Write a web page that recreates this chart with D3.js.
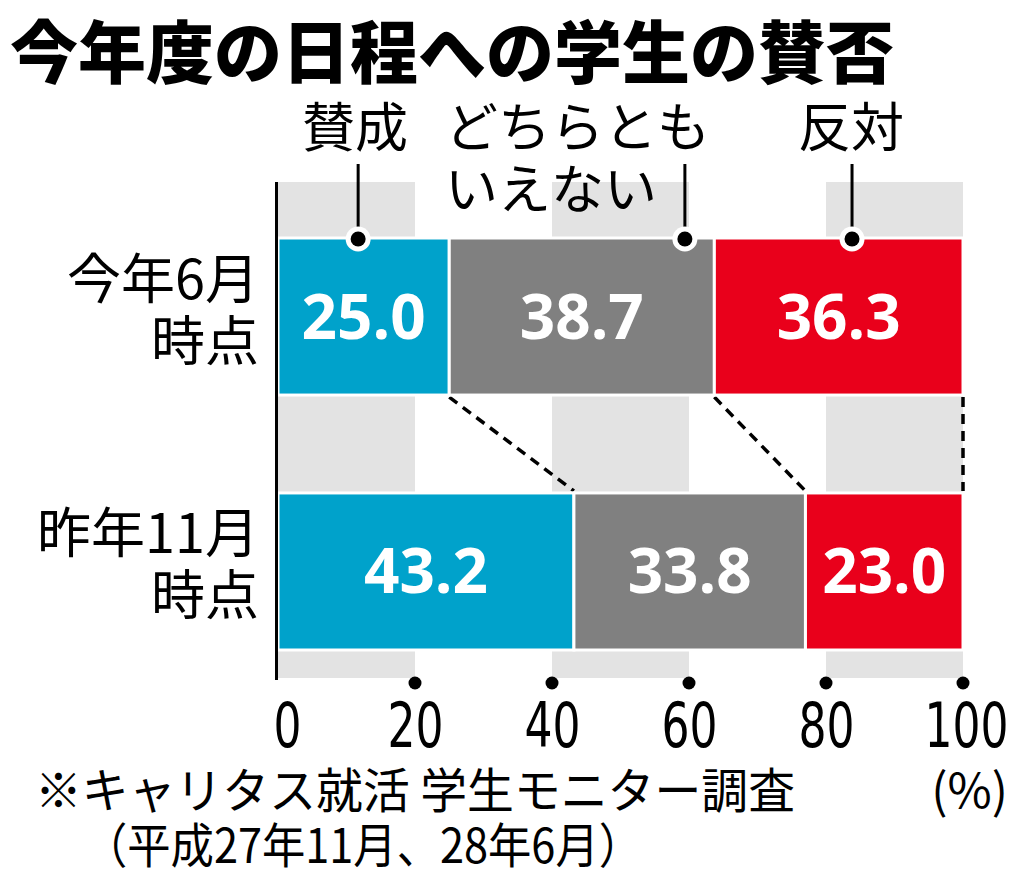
<!DOCTYPE html>
<html>
<head>
<meta charset="utf-8">
<script src="https://cdn.jsdelivr.net/npm/d3@7"></script>
<style>
  body { margin: 0; background: #fff; }
  svg { display: block; }
  .jp { font-family: "Noto Sans CJK JP", sans-serif; }
</style>
</head>
<body>
<div class="chart"></div>
<script>
// === Data ===
const periods = ["今年6月時点", "昨年11月時点"];
const periodLines = [["今年6月", "時点"], ["昨年11月", "時点"]];
const answers = ["賛成", "どちらとも いえない", "反対"];
const answerLines = [["賛成"], ["どちらとも", "いえない"], ["反対"]];
const juneValues = [25.0, 38.7, 36.3];
const novValues = [43.2, 33.8, 23.0];
const xTicks = [0, 20, 40, 60, 80, 100];
const colors = ["#00a2cb", "#808080", "#e9001b"];

const width = 1024, height = 875;

const svg = d3.select(".chart").append("svg")
    .attr("width", width)
    .attr("height", height);

// === Scales ===
const x = d3.scaleLinear().domain([0, 100]).range([278, 963]);
const y = d3.scaleBand().domain(periods).range([238, 650]).paddingInner(0.384);

const plotTop = 182, plotBottom = 678;

// stacked rows
const rows = [juneValues, novValues].map((vals, i) => {
    let acc = 0;
    return vals.map((v, j) => {
        const seg = {period: periods[i], answer: answers[j], value: v, x0: acc, x1: acc + v, idx: j};
        acc += v;
        return seg;
    });
});

// === Background columns ===
svg.append("g").selectAll("rect")
    .data(d3.range(0, 100, 40))
    .join("rect")
    .attr("x", d => x(d))
    .attr("y", plotTop)
    .attr("width", d => x(d + 20) - x(d))
    .attr("height", plotBottom - plotTop)
    .attr("fill", "#e3e3e3");

// === Dashed connectors between rows ===
const b0 = y(periods[0]) + y.bandwidth(), b1 = y(periods[1]);
svg.append("g").selectAll("line")
    .data([0, 1, 2])
    .join("line")
    .attr("x1", i => x(rows[0][i].x1))
    .attr("x2", i => x(rows[1][i].x1))
    .attr("y1", b0 + 2)
    .attr("y2", b1 - 2)
    .attr("stroke", "#000")
    .attr("stroke-width", 3.5)
    .attr("stroke-dasharray", "10 7");

// === Bars ===
const barG = svg.append("g");
rows.forEach(row => {
    barG.selectAll(null)
        .data(row)
        .join("rect")
        .attr("x", d => x(d.x0))
        .attr("y", d => y(d.period))
        .attr("width", d => x(d.x1) - x(d.x0))
        .attr("height", y.bandwidth())
        .attr("fill", d => colors[d.idx])
        .attr("stroke", "#fff")
        .attr("stroke-width", 3);

    barG.selectAll(null)
        .data(row)
        .join("text")
        .attr("x", d => x((d.x0 + d.x1) / 2))
        .attr("y", d => y(d.period) + y.bandwidth() / 2 + 22)
        .attr("text-anchor", "middle")
        .attr("fill", "#fff")
        .attr("font-family", "'Open Sans', 'Noto Sans', sans-serif")
        .attr("font-weight", 700)
        .attr("font-size", 62)
        .text(d => d3.format(".1f")(d.value));
});

// === Axis line ===
svg.append("line")
    .attr("x1", x(0) - 1.5).attr("x2", x(0) - 1.5)
    .attr("y1", plotTop).attr("y2", plotBottom + 2)
    .attr("stroke", "#000")
    .attr("stroke-width", 3);

// tick dots
svg.append("g").selectAll("circle")
    .data(xTicks.slice(1))
    .join("circle")
    .attr("cx", d => x(d))
    .attr("cy", 683)
    .attr("r", 6.5)
    .attr("fill", "#000");

// tick labels
const xAxis = d3.axisBottom(x).tickValues(xTicks).tickSize(0).tickPadding(0);
const axisG = svg.append("g")
    .attr("transform", "translate(0, 703)")
    .call(xAxis);
axisG.select(".domain").remove();
axisG.selectAll("text")
    .attr("y", 0)
    .attr("dy", 44)
    .attr("dx", d => d === 0 ? 9 : (d === 100 ? 3 : 0))
    .attr("fill", "#000")
    .attr("font-family", "'Liberation Sans Narrow', 'DejaVu Sans Condensed', 'DejaVu Sans', sans-serif")
    .attr("font-size", 62)
    .attr("textLength", d => String(d).length * 28)
    .attr("lengthAdjust", "spacingAndGlyphs");

// === Period labels ===
periodLines.forEach((lines, i) => {
    const cy = y(periods[i]) + y.bandwidth() / 2;
    svg.append("text")
        .attr("class", "jp")
        .attr("text-anchor", "end")
        .attr("font-size", 54)
        .attr("fill", "#000")
        .selectAll("tspan")
        .data(lines)
        .join("tspan")
        .attr("x", 259)
        .attr("y", (d, k) => cy - 18 + k * 62)
        .text(d => d);
});

// === Legend labels with leaders ===
const legendAnchor = [11.7, 59.4, 83.8];
const legendText = [
    {x: 355, anchor: "middle"},
    {x: 445, anchor: "start"},
    {x: 851, anchor: "middle"}
];
const barTop = y(periods[0]);
answerLines.forEach((lines, i) => {
    svg.append("text")
        .attr("class", "jp")
        .attr("text-anchor", legendText[i].anchor)
        .attr("font-size", 53)
        .attr("fill", "#000")
        .selectAll("tspan")
        .data(lines)
        .join("tspan")
        .attr("x", legendText[i].x)
        .attr("y", (d, k) => 147 + k * 62)
        .text(d => d);

    const cx = x(legendAnchor[i]);
    svg.append("line")
        .attr("x1", cx).attr("x2", cx)
        .attr("y1", 164).attr("y2", barTop)
        .attr("stroke", "#000")
        .attr("stroke-width", 3);
    svg.append("circle")
        .attr("cx", cx).attr("cy", barTop + 1)
        .attr("r", 12.5)
        .attr("fill", "#fff");
    svg.append("circle")
        .attr("cx", cx).attr("cy", barTop + 1)
        .attr("r", 7.5)
        .attr("fill", "#000");
});

// === Title ===
svg.append("text")
    .attr("class", "jp")
    .attr("x", 10)
    .attr("y", 78)
    .attr("font-size", 68)
    .attr("font-weight", 900)
    .attr("fill", "#000")
    .text("今年度の日程への学生の賛否");

// === Notes ===
svg.append("text")
    .attr("class", "jp")
    .attr("x", 35).attr("y", 808)
    .attr("font-size", 48)
    .attr("textLength", 760)
    .attr("lengthAdjust", "spacingAndGlyphs")
    .text("※キャリタス就活 学生モニター調査");

svg.append("text")
    .attr("class", "jp")
    .attr("x", 84).attr("y", 863)
    .attr("font-size", 48)
    .attr("textLength", 558)
    .attr("lengthAdjust", "spacingAndGlyphs")
    .text("（平成27年11月、28年6月）");

svg.append("text")
    .attr("class", "jp")
    .attr("x", 1008).attr("y", 808)
    .attr("text-anchor", "end")
    .attr("font-size", 48)
    .text("(%)");
</script>
</body>
</html>
